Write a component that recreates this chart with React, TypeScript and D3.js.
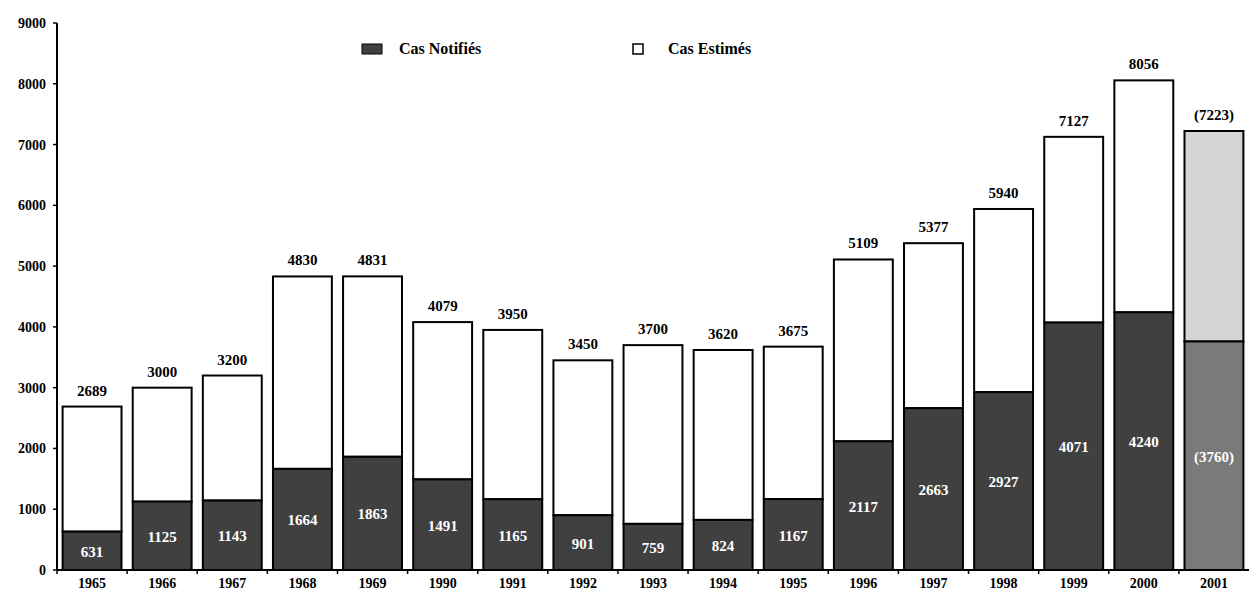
import React from 'react'
import * as d3 from 'd3'

const years = ['1965', '1966', '1967', '1968', '1969', '1990', '1991', '1992', '1993', '1994', '1995', '1996', '1997', '1998', '1999', '2000', '2001']
const notified = [631, 1125, 1143, 1664, 1863, 1491, 1165, 901, 759, 824, 1167, 2117, 2663, 2927, 4071, 4240, 3760]
const estimated = [2689, 3000, 3200, 4830, 4831, 4079, 3950, 3450, 3700, 3620, 3675, 5109, 5377, 5940, 7127, 8056, 7223]
const yTicks = [0, 1000, 2000, 3000, 4000, 5000, 6000, 7000, 8000, 9000]

const W = 1249
const H = 590
const font = "'Liberation Serif', serif"

const App: React.FC = () => {
  const x = d3.scaleBand<string>().domain(years).range([57, 1249]).paddingInner(0.16).paddingOuter(0.08)
  const y = d3.scaleLinear().domain([0, 9000]).range([570, 23])
  const last = years.length - 1
  const fmt = (v: number, i: number) => (i === last ? `(${v})` : `${v}`)

  return (
    <svg width={W} height={H} style={{ position: 'absolute', left: 0, top: 0, background: '#fff' }}>
      {/* legend */}
      <rect x={362} y={44} width={20} height={10} fill="#404040" stroke="#000" strokeWidth={1} />
      <text x={399} y={54} fontFamily={font} fontWeight="bold" fontSize={16}>Cas Notifiés</text>
      <rect x={633} y={44} width={10} height={10} fill="#fff" stroke="#000" strokeWidth={1.5} />
      <text x={668} y={54} fontFamily={font} fontWeight="bold" fontSize={16}>Cas Estimés</text>

      {/* bars */}
      {years.map((yr, i) => {
        const bx = x(yr) as number
        const bw = x.bandwidth()
        const cx = bx + bw / 2
        const isLast = i === last
        return (
          <g key={yr}>
            <rect x={bx} y={y(estimated[i])} width={bw} height={y(notified[i]) - y(estimated[i])}
              fill={isLast ? '#d4d4d4' : '#fff'} stroke="#000" strokeWidth={2} />
            <rect x={bx} y={y(notified[i])} width={bw} height={y(0) - y(notified[i])}
              fill={isLast ? '#7a7a7a' : '#404040'} stroke="#000" strokeWidth={2} />
            <text x={cx} y={y(estimated[i]) - 11} textAnchor="middle" fontFamily={font} fontWeight="bold" fontSize={15}>
              {fmt(estimated[i], i)}
            </text>
            <text x={cx} y={(y(notified[i]) + y(0)) / 2 + 6} textAnchor="middle" fill="#fff" fontFamily={font} fontWeight="bold" fontSize={15}>
              {fmt(notified[i], i)}
            </text>
            <text x={cx} y={588} textAnchor="middle" fontFamily={font} fontWeight="bold" fontSize={14}>{yr}</text>
          </g>
        )
      })}

      {/* y axis */}
      <line x1={57} x2={57} y1={y(9000)} y2={y(0)} stroke="#000" strokeWidth={2} />
      {yTicks.map(t => (
        <g key={t}>
          <line x1={53} x2={57} y1={y(t)} y2={y(t)} stroke="#000" strokeWidth={1.5} />
          <text x={46} y={y(t) + 5} textAnchor="end" fontFamily={font} fontWeight="bold" fontSize={14}>{t}</text>
        </g>
      ))}

      {/* x axis */}
      <line x1={57} x2={1249} y1={y(0)} y2={y(0)} stroke="#000" strokeWidth={2} />
      {years.map(yr => {
        const bx = (x(yr) as number) - (x.step() - x.bandwidth()) / 2
        return <line key={'t' + yr} x1={bx} x2={bx} y1={y(0)} y2={y(0) + 4} stroke="#000" strokeWidth={1.5} />
      })}
    </svg>
  )
}

export default App
